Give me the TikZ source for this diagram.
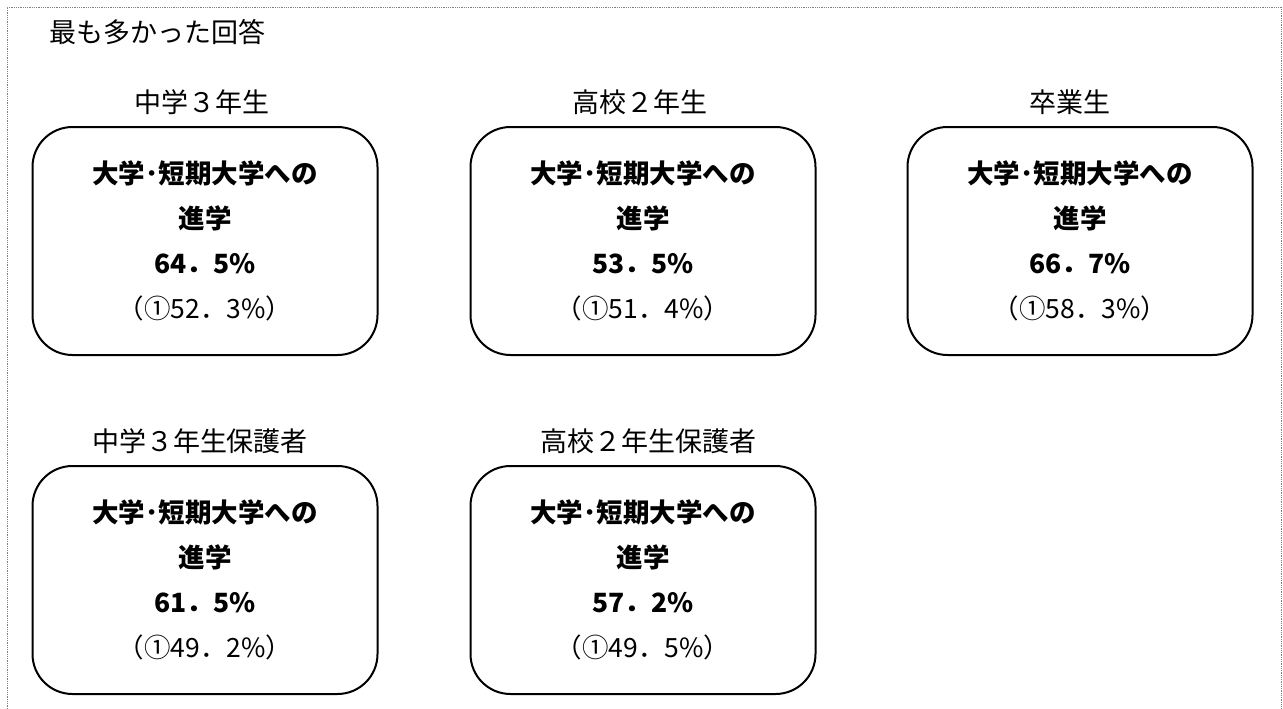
\documentclass[tikz,border=0pt]{standalone}
\usepackage{fontspec}
\newfontfamily\jpfont{Noto Sans CJK JP}
\usetikzlibrary{positioning}

\begin{document}
\begin{tikzpicture}[x=1pt, y=-1pt,
    answer/.style={draw, line width=2pt, rounded corners=40pt,
      minimum width=345pt, minimum height=228pt, inner sep=0pt,
      align=center, font=\jpfont\fontsize{26.5}{45}\selectfont},
    group/.style={font=\jpfont\fontsize{27}{30}\selectfont, inner sep=0pt}]
  \useasboundingbox (0,0) rectangle (1283,709);
  \draw[gray, densely dotted, line width=0.8pt] (7,709) -- (7,7) -- (1281,7) -- (1281,709);
  \node[group, anchor=west] (title) at (49,32) {最も多かった回答};
  \foreach \x/\y/\lx/\name/\who/\pct/\first in {
      205/241/202/cj3/中学３年生/64．5/52．3,
      643/241/640/hs2/高校２年生/53．5/51．4,
      1080/241/1070/grad/卒業生/66．7/58．3,
      205/580/200/cj3p/中学３年生保護者/61．5/49．2,
      643/580/648/hs2p/高校２年生保護者/57．2/49．5} {
    \node[answer] (\name) at (\x,\y)
      {\textbf{大学･短期大学への}\\ \textbf{進学}\\ \textbf{\pct\%}\\ （①\first\%）};
    \node[group] (l\name) at (\lx,\y-139) {\who};
  }
\end{tikzpicture}
\end{document}
